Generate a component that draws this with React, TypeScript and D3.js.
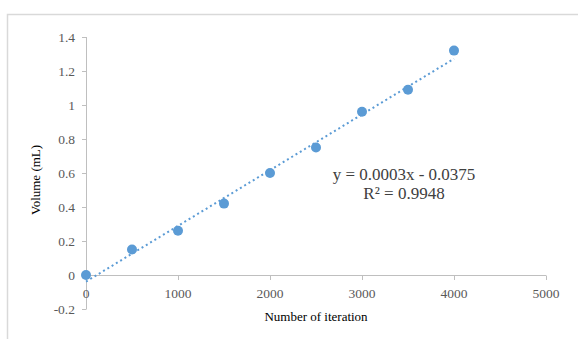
import React, { useEffect, useRef } from 'react'
import * as d3 from 'd3'

// measured data (iterations vs volume)
const iterations = [0, 500, 1000, 1500, 2000, 2500, 3000, 3500, 4000]
const volumes = [0, 0.15, 0.26, 0.42, 0.6, 0.75, 0.96, 1.09, 1.32]
const xTicks = [0, 1000, 2000, 3000, 4000, 5000]
const yTicks = [-0.2, 0, 0.2, 0.4, 0.6, 0.8, 1, 1.2, 1.4]
const equationLines = ['y = 0.0003x - 0.0375', 'R² = 0.9948']

function App() {
  const ref = useRef<SVGSVGElement>(null)

  useEffect(() => {
    const svg = d3.select(ref.current)
    svg.selectAll('*').remove()

    const x = d3.scaleLinear().domain([0, 5000]).range([86, 546])
    const y = d3.scaleLinear().domain([-0.2, 1.4]).range([309, 37])

    // outer frame (cut off at right/bottom)
    svg.append('path')
      .attr('d', 'M7.5,339 L7.5,14.5 L578,14.5')
      .attr('fill', 'none')
      .attr('stroke', '#d9d9d9')
      .attr('stroke-width', 1.5)

    const axisColor = '#bfbfbf'
    const tickFont = '"Liberation Serif", serif'

    // y axis
    svg.append('line')
      .attr('x1', 86.5).attr('x2', 86.5)
      .attr('y1', y(1.4)).attr('y2', y(-0.2))
      .attr('stroke', axisColor)
    svg.append('g').selectAll('line')
      .data(yTicks).enter().append('line')
        .attr('x1', 82).attr('x2', 86.5)
        .attr('y1', d => Math.round(y(d)) + 0.5)
        .attr('y2', d => Math.round(y(d)) + 0.5)
        .attr('stroke', axisColor)
    svg.append('g').selectAll('text')
      .data(yTicks).enter().append('text')
        .attr('x', 75)
        .attr('y', d => y(d) + 4.5)
        .attr('text-anchor', 'end')
        .attr('font-family', tickFont)
        .attr('font-size', 13.5)
        .attr('fill', '#595959')
        .text(d => String(d))

    // x axis at y = 0
    const y0 = Math.round(y(0)) + 0.5
    svg.append('line')
      .attr('x1', x(0)).attr('x2', x(5000))
      .attr('y1', y0).attr('y2', y0)
      .attr('stroke', axisColor)
    svg.append('g').selectAll('line')
      .data(xTicks).enter().append('line')
        .attr('x1', d => Math.round(x(d)) + 0.5)
        .attr('x2', d => Math.round(x(d)) + 0.5)
        .attr('y1', y0).attr('y2', y0 + 4.5)
        .attr('stroke', axisColor)
    svg.append('g').selectAll('text')
      .data(xTicks).enter().append('text')
        .attr('x', d => x(d))
        .attr('y', y0 + 22)
        .attr('text-anchor', 'middle')
        .attr('font-family', tickFont)
        .attr('font-size', 13.5)
        .attr('fill', '#595959')
        .text(d => String(d))

    // axis titles
    svg.append('text')
      .attr('x', 316).attr('y', 321)
      .attr('text-anchor', 'middle')
      .attr('font-family', '"Liberation Serif", serif')
      .attr('font-size', 13)
      .attr('fill', '#000')
      .text('Number of iteration')
    svg.append('text')
      .attr('transform', 'translate(40,180) rotate(-90)')
      .attr('text-anchor', 'middle')
      .attr('font-family', '"Liberation Serif", serif')
      .attr('font-size', 13)
      .attr('fill', '#000')
      .text('Volume (mL)')

    // linear trendline (least squares)
    const mx = d3.mean(iterations) as number
    const my = d3.mean(volumes) as number
    let sxy = 0, sxx = 0
    iterations.forEach((v, i) => {
      sxy += (v - mx) * (volumes[i] - my)
      sxx += (v - mx) * (v - mx)
    })
    const slope = sxy / sxx
    const icpt = my - slope * mx
    const x0 = iterations[0], x1 = iterations[iterations.length - 1]
    svg.append('path')
      .attr('d', d3.line()([[x(x0), y(slope * x0 + icpt)], [x(x1), y(slope * x1 + icpt)]]))
      .attr('stroke', '#5b9bd5')
      .attr('stroke-width', 2)
      .attr('stroke-dasharray', '2 3')
      .attr('fill', 'none')

    // points
    svg.append('g').selectAll('circle')
      .data(iterations).enter().append('circle')
        .attr('cx', d => x(d))
        .attr('cy', (d, i) => y(volumes[i]))
        .attr('r', 5)
        .attr('fill', '#5b9bd5')

    // equation label
    svg.append('g').selectAll('text')
      .data(equationLines).enter().append('text')
        .attr('x', 404)
        .attr('y', (d, i) => 180 + i * 19)
        .attr('text-anchor', 'middle')
        .attr('font-family', '"Liberation Serif", serif')
        .attr('font-size', 17)
        .attr('fill', '#404040')
        .text(d => d)
  }, [])

  return (
    <svg ref={ref} width={578} height={339}
      style={{ position: 'absolute', left: 0, top: 0, background: '#fff' }} />
  )
}

export default App
